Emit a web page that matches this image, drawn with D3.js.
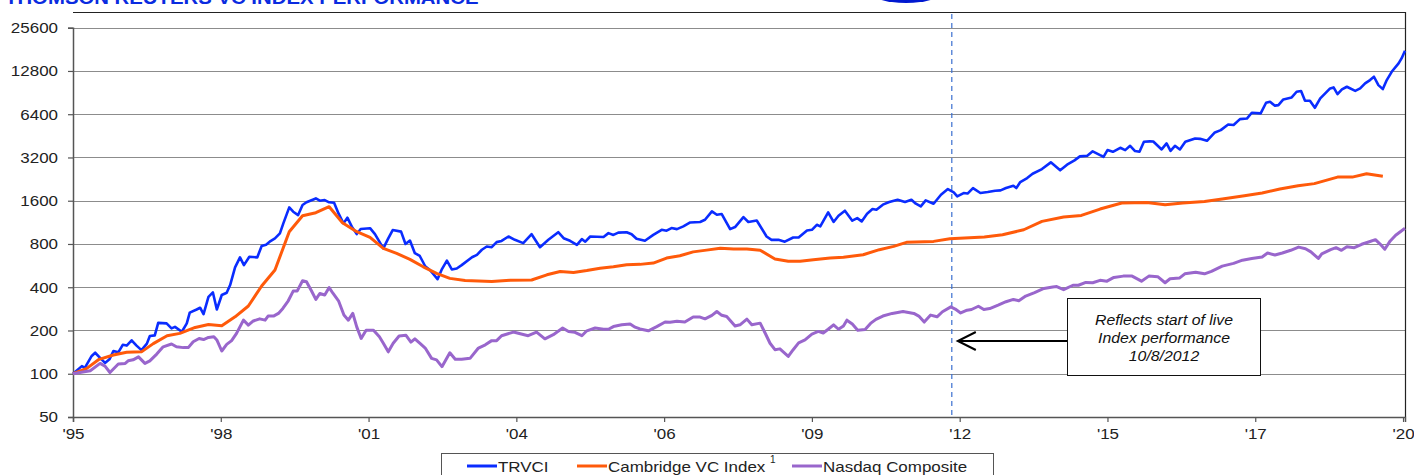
<!DOCTYPE html>
<html>
<head>
<meta charset="utf-8">
<script src="https://cdn.jsdelivr.net/npm/d3@7"></script>
<style>
  body { margin: 0; background: #fff; }
  svg { display: block; font-family: "Liberation Sans", Arial, sans-serif; }
</style>
</head>
<body>
<script>
// tick labels for the category axis (one label every 30 periods)
const yearLabels = ["'95", "'98", "'01", "'04", "'06", "'09", "'12", "'15", "'17", "'20"];
const yTicks = [50, 100, 200, 400, 800, 1600, 3200, 6400, 12800, 25600];
const liveStart = 178.4;   // 10/8/2012, start of live index

// [period, index value]
const trvci = [[0,100],[1.8,113],[2.4,110],[3.8,133],[4.5,140],[5.5,129],[6.5,119],[7.4,126],[8.2,144],[9.2,141],[10.1,159],[10.9,157],[11.9,171],[12.9,157],[13.9,146],[15,162],[15.6,183],[16.6,185],[17.3,226],[19,224],[20,207],[20.7,212],[22.1,196],[23.1,224],[23.7,266],[25.1,280],[25.8,288],[26.5,260],[27.5,343],[28.4,368],[29.2,280],[30.2,353],[31.2,366],[31.9,414],[32.9,550],[33.9,645],[34.7,570],[35.8,652],[37.4,645],[38.3,774],[39.2,790],[40.1,838],[41,875],[42,948],[42.7,1113],[43.9,1438],[44.7,1342],[45.7,1271],[46.6,1493],[47.4,1560],[49.3,1660],[50.1,1600],[51.1,1617],[52,1560],[53,1550],[53.9,1306],[54.9,1113],[55.7,1219],[56.6,1056],[57.6,938],[58.4,1016],[60.3,1030],[61.3,938],[63,745],[64,875],[64.9,1000],[66.6,975],[67.5,800],[68.4,845],[69.4,690],[70.4,660],[71.5,560],[72.5,525],[74,455],[74.9,535],[75.9,612],[76.9,532],[77.9,540],[78.9,570],[81,647],[82,672],[83,729],[84,768],[85,760],[86,824],[87,840],[88.4,902],[89.7,855],[91.4,811],[93.1,936],[94.8,760],[96.5,855],[98.5,966],[99.6,878],[100.9,842],[102.3,789],[103.3,864],[104,830],[105,902],[107.7,895],[108.7,952],[109.7,925],[110.7,960],[112.4,966],[113.4,936],[114.4,869],[116.1,842],[117.8,925],[119.5,1004],[120.5,990],[121.5,1032],[122.6,1015],[123.9,1060],[125.3,1130],[127.3,1138],[128.3,1179],[129.7,1349],[130.7,1278],[131.7,1293],[133.4,1015],[134.4,1049],[136.1,1231],[137.1,1138],[138.8,1165],[140.8,902],[141.8,855],[143.2,855],[144.5,830],[146.2,888],[147.3,888],[149,994],[150,1004],[151,1088],[151.7,1060],[153.3,1327],[154.4,1138],[155.4,1258],[156.7,1363],[158.2,1162],[159.2,1211],[160.1,1149],[161.2,1299],[162.3,1400],[163.1,1385],[164.4,1502],[165.7,1566],[167.4,1626],[168.9,1566],[170.2,1626],[171.1,1525],[172.1,1461],[173.1,1610],[174.7,1525],[176.2,1761],[177.6,1929],[178.8,1829],[179.5,1715],[180.8,1810],[181.6,1795],[182.7,1960],[184.2,1810],[185.7,1838],[187.2,1878],[188.3,1888],[189.4,1960],[190.9,2035],[191.5,1960],[192.3,2158],[193.7,2301],[194.8,2466],[196.7,2658],[198.5,2959],[200.4,2603],[201.8,2850],[203.3,3055],[204.4,3256],[205.9,3290],[207,3530],[208.5,3321],[209.2,3235],[210,3600],[211.1,3504],[212.6,3737],[213.6,3600],[214.6,3858],[215.6,3545],[216.5,3504],[217.4,4113],[218.6,4140],[219.3,4130],[221,3639],[222,4006],[222.8,3561],[223.7,3858],[224.7,3639],[225.8,4113],[227.8,4339],[228.8,4313],[230.2,4180],[231.8,4777],[233,4960],[234.5,5431],[235.6,5390],[236.9,5917],[238.3,5970],[239.3,6550],[241.1,6490],[242.2,7687],[243,7815],[244,7340],[244.7,7400],[245.7,8114],[247.4,8370],[248.4,9172],[249.3,9280],[250.1,7940],[251.1,7940],[252.1,7097],[253.2,8240],[255.2,9676],[255.9,9830],[256.7,8835],[257.6,9520],[258.6,9940],[260.3,9310],[261.3,9676],[262.3,10485],[263.3,11060],[264.1,11666],[265,10205],[265.9,9570],[266.7,11060],[267.7,12630],[269.1,14440],[269.7,15650],[270.4,17690]];

const cambridge = [[0,100],[2.8,109],[5.3,126],[8.2,135],[10.9,141],[13.9,142],[16.3,162],[19.1,184],[21.7,191],[24.8,210],[27.5,220],[30.2,216],[32.9,249],[35.6,296],[38.3,408],[41,527],[43.9,974],[46.6,1258],[49.3,1320],[52,1453],[54.7,1125],[57.6,974],[60.3,889],[63,745],[65.7,688],[68.4,625],[71.1,555],[73.8,499],[76.5,461],[79.6,445],[85,438],[88.7,447],[93.1,449],[96.2,488],[98.9,515],[101.6,507],[104.3,523],[107,543],[109.7,555],[112.4,573],[115.1,577],[117.8,589],[120.5,638],[123.2,662],[125.9,705],[128.6,725],[131.4,748],[134.1,739],[136.8,739],[139.5,724],[142.5,628],[145.2,607],[147.6,607],[150.3,621],[153.7,640],[156.4,647],[160.4,673],[163.7,730],[166.6,770],[169.2,821],[174.7,834],[178,871],[185,894],[188.7,928],[193,1005],[196.7,1149],[201.1,1231],[204.7,1264],[208.5,1400],[212.9,1541],[218,1557],[221.7,1500],[225.3,1541],[229.7,1583],[233.3,1643],[237.8,1735],[241.4,1810],[245,1929],[248.7,2035],[252,2104],[256.7,2336],[259.7,2336],[262.6,2465],[265.9,2372]];

const nasdaq = [[0,100],[1.4,102],[3.5,105],[5.5,118],[6.5,113],[7.5,102],[9.2,117],[10.6,118],[11.2,123],[12.2,125],[13.3,131],[14.6,118],[15.6,123],[17,137],[18.3,154],[20,161],[21,154],[22.4,152],[23.4,152],[24.4,167],[25.6,176],[26.5,173],[27.5,179],[28.6,181],[29.2,172],[30.2,144],[31.2,160],[32.2,170],[33.2,191],[34.6,236],[35.6,218],[36.6,233],[37.9,241],[39,236],[39.6,252],[40.7,252],[41.7,263],[42.6,285],[43.7,322],[44.7,376],[45.5,376],[46.6,444],[47.4,437],[48.4,378],[49.3,329],[50.1,362],[51.1,353],[52,398],[52.8,362],[53.9,322],[55,256],[55.9,236],[56.8,263],[57.6,212],[58.5,176],[59.5,201],[61,201],[62.2,181],[63,163],[64,142],[65,163],[66.2,183],[67.6,185],[68.6,166],[69.4,175],[70.5,162],[71.5,151],[72.8,128],[73.8,125],[74.9,112],[76.5,140],[77.6,126],[78.9,126],[80.6,128],[82.3,151],[83.7,159],[85,170],[86,170],[87,184],[89.4,195],[92.4,184],[94.1,195],[95.8,175],[97.5,187],[99.4,208],[100.6,197],[101.9,194],[103.3,184],[104.3,199],[106,208],[107.7,204],[108.7,204],[109.7,213],[111.4,219],[113.1,222],[114.1,211],[115.1,205],[116.8,199],[118.5,213],[120.2,229],[121.2,228],[122.6,232],[124.2,229],[125.9,248],[127.3,248],[128.3,241],[129.7,255],[130.7,271],[131.7,255],[132.7,250],[134.4,215],[135.4,219],[136.8,240],[137.8,219],[139.5,225],[140.5,192],[141.5,163],[142.5,147],[143.5,149],[145.2,132],[146.2,147],[147.3,164],[148.6,172],[150,189],[151.3,197],[152.3,192],[153.3,204],[154.4,219],[155.4,204],[156.4,215],[157.1,236],[158.2,222],[159.3,201],[160.8,203],[161.9,224],[163,239],[164.4,252],[166.3,263],[168.5,271],[170.7,263],[171.7,252],[172.8,229],[174.1,256],[175.4,249],[176.5,270],[178.2,292],[179.1,282],[180.2,265],[181.5,277],[182.4,280],[183.8,295],[184.9,280],[186.1,284],[187.8,300],[189.4,317],[190.9,329],[192,322],[193.4,347],[195.2,367],[197.1,392],[198.9,401],[199.7,404],[201.1,385],[203,413],[204.1,413],[205.6,432],[207,430],[208.5,447],[209.9,441],[211.3,468],[213.2,478],[215,478],[216.9,441],[218.4,478],[220.2,474],[221.7,430],[222.7,458],[224.6,463],[225.7,496],[227.9,509],[229.7,496],[231.1,516],[233.3,561],[235.6,586],[237.4,617],[239.3,634],[241.4,650],[242.5,692],[244,670],[245.5,692],[247.2,723],[248.8,761],[250.2,742],[251.3,705],[252.8,634],[253.5,683],[255.3,730],[256.4,754],[257.5,723],[258.6,765],[260.1,754],[261.6,796],[263,826],[264.4,857],[265.4,796],[266.3,735],[267.4,840],[268.5,920],[270.4,1030]];

const series = [
  {name: "TRVCI", values: trvci, color: "#0a2cff", width: 2.6},
  {name: "Cambridge VC Index", values: cambridge, color: "#ff5a0a", width: 3},
  {name: "Nasdaq Composite", values: nasdaq, color: "#9966cc", width: 3}
];

const width = 1414, height = 475;
const plot = {left: 73, right: 1405, top: 12, bottom: 417};

// the source picture is stretched sideways, so text gets widened a bit
const stretchK = 1.13;
function stretch(sel) {
  sel.each(function() {
    const w = this.getComputedTextLength();
    d3.select(this).attr("textLength", w * stretchK).attr("lengthAdjust", "spacingAndGlyphs");
  });
}

const xScale = d3.scaleLinear().domain([0, 270.4]).range([plot.left, plot.right]);
const yScale = d3.scaleLog().base(2).domain([50, 25600]).range([plot.bottom, 27.7]);

const svg = d3.select("body").append("svg")
    .attr("width", width)
    .attr("height", height);

svg.append("rect").attr("width", width).attr("height", height).attr("fill", "#fff");

// title, cut off by the top edge, and the bottom of the logo
svg.append("text")
    .attr("x", 5).attr("y", 4)
    .attr("font-size", 18).attr("font-weight", "bold")
    .attr("fill", "#0a2be0")
    .text("THOMSON REUTERS VC INDEX PERFORMANCE")
    .call(stretch);
svg.append("ellipse")
    .attr("cx", 906).attr("cy", -9).attr("rx", 37).attr("ry", 12)
    .attr("fill", "#0018d0");

// gridlines
svg.append("g")
  .selectAll("line")
  .data(yTicks.slice(1))
  .enter().append("line")
    .attr("x1", plot.left).attr("x2", plot.right)
    .attr("y1", d => Math.round(yScale(d)) + 0.5)
    .attr("y2", d => Math.round(yScale(d)) + 0.5)
    .attr("stroke", "#8c8c8c").attr("stroke-width", 1.2);

// plot frame top and right
svg.append("path")
    .attr("d", `M${plot.left},${plot.top + 0.5}H${plot.right + 0.5}V${plot.bottom}`)
    .attr("fill", "none").attr("stroke", "#222").attr("stroke-width", 1.2);

// axes
const xAxis = d3.axisBottom(xScale)
    .tickValues(d3.range(0, 271, 30))
    .tickFormat((d, i) => yearLabels[i])
    .tickSize(5).tickPadding(6);
const gx = svg.append("g")
    .attr("transform", `translate(0,${plot.bottom})`)
    .call(xAxis);

const yAxis = d3.axisLeft(yScale)
    .tickValues(yTicks)
    .tickFormat(d3.format("d"))
    .tickSize(5).tickPadding(10);
const gy = svg.append("g")
    .attr("transform", `translate(${plot.left},0)`)
    .call(yAxis);

[gx, gy].forEach(g => {
  g.select(".domain").attr("stroke", "#555").attr("stroke-width", 1.5);
  g.selectAll(".tick line").attr("stroke", "#555").attr("stroke-width", 1.2);
  g.selectAll("text")
    .attr("font-family", "Liberation Sans, Arial, sans-serif")
    .attr("font-size", 15).attr("fill", "#222")
    .call(stretch);
});

// live index start marker
svg.append("line")
    .attr("x1", xScale(liveStart)).attr("x2", xScale(liveStart))
    .attr("y1", plot.top + 2).attr("y2", plot.bottom)
    .attr("stroke", "#3a6fd0").attr("stroke-width", 1.2)
    .attr("stroke-dasharray", "5,4");

// the series lines
const valueline = d3.line()
    .x(d => xScale(d[0]))
    .y(d => yScale(d[1]));

svg.selectAll(".series")
  .data(series)
  .enter().append("path")
    .attr("class", "series")
    .attr("d", d => valueline(d.values))
    .attr("fill", "none")
    .attr("stroke", d => d.color)
    .attr("stroke-width", d => d.width)
    .attr("stroke-linejoin", "round");

// annotation box + arrow
const note = svg.append("g");
note.append("path")
    .attr("d", `M1067,341H${xScale(liveStart) + 6}M${xScale(liveStart) + 24},332L${xScale(liveStart) + 6},341L${xScale(liveStart) + 24},350`)
    .attr("fill", "none").attr("stroke", "#000").attr("stroke-width", 2);
note.append("rect")
    .attr("x", 1067.5).attr("y", 298.5).attr("width", 193).attr("height", 77)
    .attr("fill", "#fff").attr("stroke", "#111").attr("stroke-width", 1);
note.selectAll("text")
  .data(["Reflects start of live", "Index performance", "10/8/2012"])
  .enter().append("text")
    .attr("x", 1164).attr("y", (d, i) => 325 + i * 18)
    .attr("text-anchor", "middle")
    .attr("font-size", 14).attr("font-style", "italic").attr("fill", "#111")
    .text(d => d)
    .call(stretch);

// legend
const legend = svg.append("g");
legend.append("rect")
    .attr("x", 441.5).attr("y", 453.5).attr("width", 552).attr("height", 30)
    .attr("fill", "#fff").attr("stroke", "#555").attr("stroke-width", 1);
const legendX = [467, 577, 792];
const item = legend.selectAll(".item")
  .data(series)
  .enter().append("g")
    .attr("class", "item")
    .attr("transform", (d, i) => `translate(${legendX[i]},466)`);
item.append("line")
    .attr("x1", 0).attr("x2", 30)
    .attr("stroke", d => d.color).attr("stroke-width", 3);
item.append("text")
    .attr("x", 31).attr("y", 5.5)
    .attr("font-size", 15).attr("fill", "#222")
    .text(d => d.name)
    .call(stretch);
// footnote marker on the Cambridge entry
legend.append("text")
    .attr("x", 770).attr("y", 463)
    .attr("font-size", 10).attr("fill", "#222")
    .text("1");
</script>
</body>
</html>
